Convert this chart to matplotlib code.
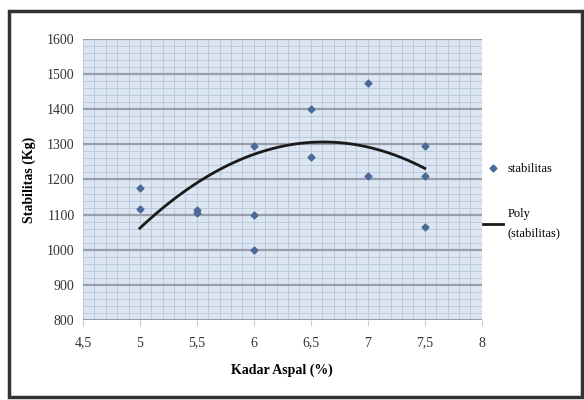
import numpy as np
import matplotlib.pyplot as plt
from matplotlib.patches import Rectangle
from matplotlib.ticker import MultipleLocator

plt.rcParams['font.family'] = ['Liberation Serif', 'DejaVu Serif']

kadar = [5, 5, 5.5, 5.5, 6, 6, 6, 6.5, 6.5, 7, 7, 7.5, 7.5, 7.5]
stabilitas = [1175, 1115, 1112, 1105, 1295, 1100, 1000, 1400, 1265, 1475, 1210, 1295, 1210, 1065]

# trendline values (order-2 poly)
trend_x = [5, 5.5, 6, 6.5, 7, 7.5]
trend_y = [1062, 1188, 1275, 1304, 1292, 1232]

fig = plt.figure(figsize=(5.84, 4.0), dpi=100)
ax = fig.add_axes([0.142, 0.2, 0.683, 0.7025])
ax.set_facecolor('#dce6f2')

ax.plot(kadar, stabilitas, 'D', color='#4a6a98', markersize=3.5, label='stabilitas')

coef = np.polyfit(trend_x, trend_y, 2)
xs = np.linspace(5, 7.5, 100)
ax.plot(xs, np.polyval(coef, xs), color='#1a1a1a', lw=2, label='Poly\n(stabilitas)')

ax.set_xlim(4.5, 8)
ax.set_ylim(800, 1600)
ax.xaxis.set_major_locator(MultipleLocator(0.5))
ax.xaxis.set_minor_locator(MultipleLocator(0.1))
ax.yaxis.set_major_locator(MultipleLocator(100))
ax.yaxis.set_minor_locator(MultipleLocator(20))
ax.set_xticks([4.5, 5, 5.5, 6, 6.5, 7, 7.5, 8])
ax.set_xticklabels(['4,5', '5', '5,5', '6', '6,5', '7', '7,5', '8'])
ax.grid(which='major', axis='y', color='#9a9eaa', lw=1.6)
ax.grid(which='minor', color='#b8c6d8', lw=0.6)
ax.grid(which='major', axis='x', color='#b8c6d8', lw=0.6)
ax.set_axisbelow(True)
for s in ax.spines.values():
    s.set_visible(False)
ax.tick_params(axis='both', which='minor', length=0)
ax.tick_params(axis='y', length=0, labelsize=10, colors='#333333', pad=6)
ax.tick_params(axis='x', length=4, color='#cccccc', labelsize=10, colors='#333333', pad=8)

ax.set_xlabel('Kadar Aspal (%)', fontsize=10, fontweight='bold', labelpad=10)
ax.set_ylabel('Stabilitas (Kg)', fontsize=10, fontweight='bold', labelpad=8)

leg = ax.legend(loc='upper left', bbox_to_anchor=(0.99, 0.575), frameon=False,
                fontsize=9, handlelength=1.6, handletextpad=0.4, labelspacing=2.6,
                borderaxespad=0)
for t in leg.get_texts():
    t.set_linespacing(1.8)

fig.patches.append(Rectangle((0.016, 0.008), 0.98, 0.965, transform=fig.transFigure,
                             fill=False, edgecolor='#333333', lw=2.5))

fig.savefig('out.png', dpi=100)
